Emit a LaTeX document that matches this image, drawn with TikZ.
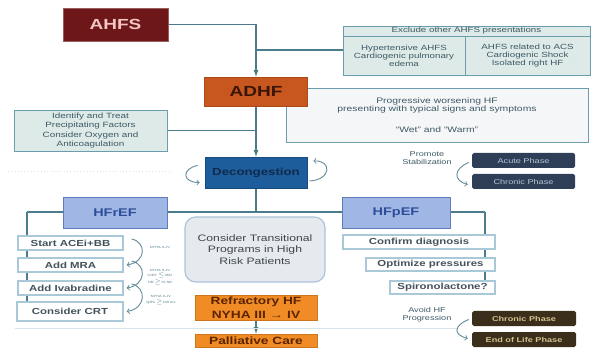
\documentclass[tikz,border=0pt]{standalone}
\usepackage{fontspec}
\setmainfont{Liberation Sans}[FakeStretch=1.3]
\usetikzlibrary{arrows,backgrounds}

\definecolor{linec}{HTML}{4C7B8B}
\definecolor{faintc}{HTML}{D9E4EA}
\definecolor{ahfsred}{HTML}{6E1719}
\definecolor{ahfstext}{HTML}{F2C6C2}
\definecolor{adhforange}{HTML}{C8571F}
\definecolor{adhftext}{HTML}{3A1505}
\definecolor{decongblue}{HTML}{1E5D9C}
\definecolor{decongtext}{HTML}{0F2A4A}
\definecolor{tealfill}{HTML}{DDEAE7}
\definecolor{tealedge}{HTML}{6C9DAD}
\definecolor{tealtext}{HTML}{3E5A66}
\definecolor{progfill}{HTML}{F5F6F7}
\definecolor{navyphase}{HTML}{2D3E56}
\definecolor{navytext}{HTML}{B9C5D5}
\definecolor{brownphase}{HTML}{3B2E1B}
\definecolor{browntext}{HTML}{D4C08E}
\definecolor{hfblue}{HTML}{A0B6E4}
\definecolor{hfedge}{HTML}{5F7DBC}
\definecolor{hftext}{HTML}{2C4E98}
\definecolor{drugedge}{HTML}{A9C9D9}
\definecolor{drugtext}{HTML}{44525C}
\definecolor{transfill}{HTML}{E6E9ED}
\definecolor{transedge}{HTML}{A9C4D8}
\definecolor{transtext}{HTML}{3C4650}
\definecolor{refrorange}{HTML}{F18B25}
\definecolor{refrtext}{HTML}{5A2400}

\newcommand{\fsz}[2]{\fontsize{#1}{#2}\selectfont}

\tikzset{
  sz/.style 2 args={minimum width=#1*0.3mm, minimum height=#2*0.3mm},
}

\begin{document}
\begin{tikzpicture}[x=0.3mm,y=-0.3mm]
	\tikzstyle{every node}=[inner sep=0pt, align=center]
	\tikzstyle{conn}=[draw=linec, line width=0.9pt]
	\tikzstyle{curly}=[draw=linec!85, line width=0.8pt, -to]
	\tikzstyle{tealbox}=[draw=tealedge, fill=tealfill, line width=0.8pt, text=tealtext, font=\fsz{6.4}{6.9}]
	\tikzstyle{drugbox}=[draw=drugedge, fill=white, line width=1pt, text=drugtext, font=\bfseries\fsz{7.5}{9}]
	\tikzstyle{hfbox}=[draw=hfedge, fill=hfblue, line width=0.8pt, text=hftext, font=\bfseries\fsz{9.5}{11}]
	\tikzstyle{navybox}=[fill=navyphase, rounded corners=1.5pt, text=navytext, font=\fsz{6}{7}, sz={103}{15}]
	\tikzstyle{brownbox}=[fill=brownphase, rounded corners=1.5pt, text=browntext, font=\bfseries\fsz{6}{7}, sz={104}{15}]
	\tikzstyle{orangebox}=[fill=refrorange, draw=refrorange!85!black, line width=0.6pt, text=refrtext, font=\bfseries\fsz{9}{11.5}, sz={122}{25}]
	\tikzstyle{note}=[text=linec, font=\fsz{2.6}{3.2}]
	
	\useasboundingbox (0,0) rectangle (600,348);
	
	% faint guides
	\draw[faintc, dotted, line width=0.8pt] (8,171) -- (172,171);
	\draw[faintc, line width=0.8pt] (15,328) -- (457,328);
	
	% top part
	\node[fill=ahfsred, draw=ahfsred!70!white, line width=0.6pt, text=ahfstext, font=\bfseries\fsz{12.5}{14}, sz={105}{33}] (ahfs) at (115.5,24.5) {AHFS};
	
	\node[tealbox, sz={247}{10}] (exclT) at (466.5,31) {Exclude other AHFS presentations};
	\node[tealbox, sz={122}{39}] (exclL) at (404,55.5) {Hypertensive AHFS\\Cardiogenic pulmonary\\edema};
	\node[tealbox, sz={125}{39}] (exclR) at (527.5,55.5) {AHFS related to ACS\\Cardiogenic Shock\\Isolated right HF};
	
	\node[draw=tealedge, fill=progfill, line width=0.8pt, text=tealtext, font=\fsz{6.8}{6.9}, sz={302}{54}] (prog) at (437,115) {Progressive worsening HF\\presenting with typical signs and symptoms\\[11pt]``Wet'' and ``Warm''};
	\node[fill=adhforange, draw=adhforange!85!black, line width=0.6pt, text=adhftext, font=\bfseries\fsz{12.5}{14}, sz={103}{29}] (adhf) at (256,91.5) {ADHF};
	
	\node[tealbox, font=\fsz{6.5}{7.9}, sz={153}{41}] (ident) at (90.5,130.5) {Identify and Treat\\Precipitating Factors\\Consider Oxygen and\\Anticoagulation};
	
	\node[fill=decongblue, draw=decongblue!80!black, line width=0.6pt, text=decongtext, font=\bfseries\fsz{8.7}{10}, sz={102}{31}] (decong) at (256,172.5) {Decongestion};
	
	\node[text=tealtext, font=\fsz{6}{7}] (promote) at (427,158) {Promote\\Stabilization};
	\node[navybox] (acute) at (523.5,160.5) {Acute Phase};
	\node[navybox] (chronicA) at (523.5,181.5) {Chronic Phase};
	
	% two branches
	\node[hfbox, sz={104}{31}] (hfref) at (115,212.5) {HFrEF};
	\node[hfbox, sz={108}{31}] (hfpef) at (396,212.5) {HFpEF};
	
	\node[rounded corners=9pt, draw=transedge, fill=transfill, line width=1pt, text=transtext, font=\fsz{8}{9.8}, sz={140}{65}] (trans) at (255,249.5) {Consider Transitional\\Programs in High\\Risk Patients};
	
	\node[drugbox, sz={105}{14}] (ace) at (70.5,243) {Start ACEi+BB};
	\node[drugbox, sz={105}{14}] (mra) at (70.5,265) {Add MRA};
	\node[drugbox, sz={105}{14}] (ivab) at (70.5,288) {Add Ivabradine};
	\node[drugbox, sz={106}{19}] (crt) at (70,311.5) {Consider CRT};
	
	\node[note] (noteA) at (160,247) {NYHA II--IV};
	\node[note] (noteB) at (160,277) {NYHA II--IV\\LVEF $\le$35\%\\HR $\ge$70 SR};
	\node[note] (noteC) at (161,300) {NYHA II--IV\\QRS $\ge$130 ms};
	
	\node[drugbox, sz={152}{14}] (confirm) at (419,242) {Confirm diagnosis};
	\node[drugbox, sz={129}{13}] (optim) at (430.5,264.5) {Optimize pressures};
	\node[drugbox, sz={105}{13}] (spiro) at (442.5,287.5) {Spironolactone?};
	
	\node[orangebox] (refr) at (256,307.5) {Refractory HF\\NYHA III → IV};
	\node[orangebox, sz={122}{13}] (pall) at (256,340.5) {Palliative Care};
	
	\node[text=tealtext, font=\fsz{6}{7}] (avoid) at (427,315) {Avoid HF\\Progression};
	\node[brownbox] (chronicB) at (524,318.5) {Chronic Phase};
	\node[brownbox] (eol) at (524,339.5) {End of Life Phase};
	
	% connectors
	\begin{scope}[on background layer]
	\coordinate (j1) at (256,50);
	\coordinate (lv) at (27,212);
	\coordinate (rv) at (485,212);
	\draw[conn, -latex] (ahfs.east) -| (adhf.north);
	\draw[conn] (j1) -- (j1 -| exclL.west);
	\draw[conn, -latex] (adhf.south) -- (decong.north);
	\draw[conn] (ident.east) -- (ident.east -| adhf.south);
	\draw[conn] (decong.south) -- (decong.south |- lv);
	\draw[conn] (lv) -- (rv);
	\draw[conn] (lv) -- (lv |- crt.north);
	\draw[conn] (rv) -- (rv |- spiro.north);
	\draw[conn, -latex] (refr.south) -- (pall.north);
	\end{scope}
	
	% curly arrows
	\draw[curly] ([shift={(-7,-7)}]decong.west) .. controls +(-16,3) and +(-18,0) .. ([shift={(-5,10)}]decong.west);
	\draw[curly] ([shift={(2,8.5)}]decong.east) .. controls +(22,-1) and +(19,-1) .. ([shift={(6,-11.5)}]decong.east);
	\draw[curly] ([shift={(-3,2)}]acute.west) .. controls +(-15,6) and +(-15,-4) .. ([shift={(-4,3)}]chronicA.west);
	\draw[curly] ([shift={(-3,1)}]chronicB.west) .. controls +(-15,6) and +(-15,-4) .. ([shift={(-4,-1)}]eol.west);
	\draw[curly] ([shift={(8,-4)}]ace.east) .. controls +(15,3) and +(20,-3) .. ([shift={(3,0)}]mra.east);
	\draw[curly] ([shift={(8,-4)}]mra.east) .. controls +(15,3) and +(20,-3) .. ([shift={(3,0)}]ivab.east);
	\draw[curly] ([shift={(8,-4)}]ivab.east) .. controls +(15,3) and +(20,-3) .. ([shift={(3,0)}]crt.east);
\end{tikzpicture}
\end{document}
